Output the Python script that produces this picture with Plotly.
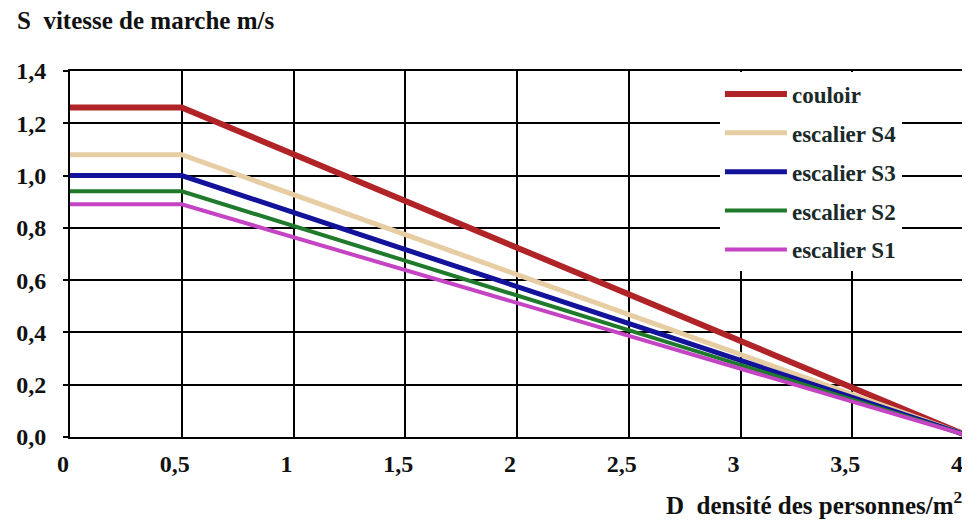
import plotly.graph_objects as go

# Data
density = [0, 0.5, 4.0]
series_names = ["couloir", "escalier S4", "escalier S3", "escalier S2", "escalier S1"]
couloir = [1.26, 1.26, 0.01]
escalier_s4 = [1.08, 1.08, 0.01]
escalier_s3 = [1.00, 1.00, 0.01]
escalier_s2 = [0.94, 0.94, 0.01]
escalier_s1 = [0.89, 0.89, 0.01]

x_tickvals = [0, 0.5, 1, 1.5, 2, 2.5, 3, 3.5, 4]
x_ticktext = ["0", "0,5", "1", "1,5", "2", "2,5", "3", "3,5", "4"]
y_tickvals = [0, 0.2, 0.4, 0.6, 0.8, 1.0, 1.2, 1.4]
y_ticktext = ["0,0", "0,2", "0,4", "0,6", "0,8", "1,0", "1,2", "1,4"]

colors = ["#B02428", "#E6CDA3", "#12129A", "#1F7A2C", "#C444C4"]
widths = [6, 5, 5, 4, 4]
values = [couloir, escalier_s4, escalier_s3, escalier_s2, escalier_s1]

FONT = "Liberation Serif, Times New Roman, serif"

fig = go.Figure()
for name, vals, col, w in zip(series_names, values, colors, widths):
    fig.add_trace(go.Scatter(
        x=density, y=vals, mode="lines", name=name,
        line=dict(color=col, width=w), legendgroup=name,
    ))

fig.update_layout(
    width=962, height=523,
    margin=dict(l=62, r=6, t=63, b=94, autoexpand=False),
    paper_bgcolor="white", plot_bgcolor="white",
    font=dict(family=FONT, color="#111", size=22, weight="bold"),
    showlegend=True,
    legend=dict(
        x=0.727, y=0.996, xanchor="left", yanchor="top",
        bgcolor="white", borderwidth=0,
        font=dict(family=FONT, size=23, color="#1a2a2a", weight="bold"),
        tracegroupgap=6, itemwidth=62,
    ),
    xaxis=dict(
        range=[0, 4], tickvals=x_tickvals, ticktext=x_ticktext,
        showgrid=True, gridcolor="black", gridwidth=2,
        showline=True, linecolor="black", linewidth=2, mirror=True,
        ticks="", ticklabelstandoff=4, ticklabelshift=-7,
        tickfont=dict(family=FONT, size=24, color="#111", weight="bold"),
        zeroline=False, fixedrange=True, automargin=False,
    ),
    yaxis=dict(
        range=[0, 1.4], tickvals=y_tickvals, ticktext=y_ticktext,
        showgrid=True, gridcolor="black", gridwidth=2,
        showline=True, linecolor="black", linewidth=2, mirror=True,
        ticks="outside", ticklen=5, tickwidth=2, tickcolor="black",
        ticklabelstandoff=12,
        tickfont=dict(family=FONT, size=24, color="#111", weight="bold"),
        zeroline=False, fixedrange=True, automargin=False,
    ),
    annotations=[
        dict(text="S  vitesse de marche m/s", xref="paper", yref="paper",
             x=-0.062, y=1.139, xanchor="left", yanchor="middle", showarrow=False,
             font=dict(family=FONT, size=25, color="#111", weight="bold")),
        dict(text="D  densité des personnes/m<sup>2</sup>", xref="paper", yref="paper",
             x=1.0, y=-0.181, xanchor="right", yanchor="middle", showarrow=False,
             font=dict(family=FONT, size=25, color="#111", weight="bold")),
    ],
)

fig.write_html("out.html")
